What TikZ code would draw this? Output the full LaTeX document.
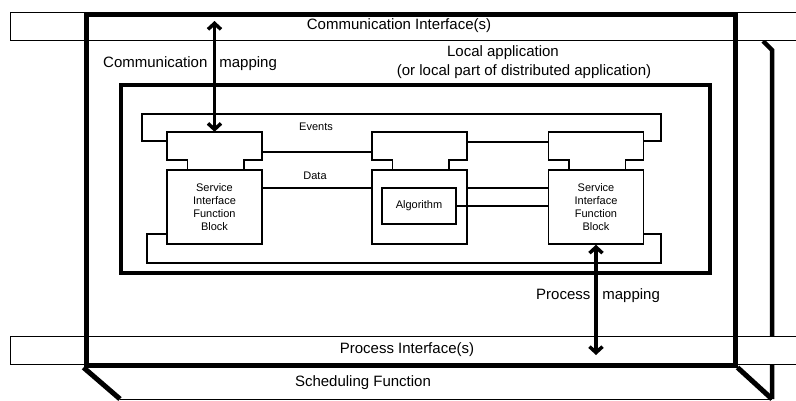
\documentclass[tikz,border=0pt]{standalone}
\usepackage{fontspec}
\setmainfont{Liberation Sans}
\usetikzlibrary{arrows.meta}
\tikzset{
  bandline/.style={line width=1pt},
  heavyline/.style={line width=5pt},
  appline/.style={line width=3.5pt},
  fbline/.style={line width=1.5pt},
  fbbox/.style={draw, line width=1.5pt, inner sep=0pt},
  headbox/.style={inner sep=0pt, minimum width=95pt, minimum height=28pt},
  bigtext/.style={font=\fontsize{15}{18}\selectfont, inner sep=0pt},
  smalltext/.style={font=\fontsize{11}{13}\selectfont, inner sep=0pt, align=center},
  maparrow/.style={line width=3.5pt, {Straight Barb[length=6pt,width=13pt]}-{Straight Barb[length=6pt,width=13pt]}}
}
\begin{document}
\begin{tikzpicture}[x=1pt,y=-1pt]
\useasboundingbox (0,0) rectangle (796,400);
% scheduling function (perspective box)
\coordinate (sbl) at (120,399);
\coordinate (sbr) at (772,399);
\draw[line width=4.5pt, line join=miter] (763,41) -- (772,50) -- (sbr);
\draw[bandline] (sbl) -- (sbr);
% bands
\fill[white] (10,12) rectangle (796,40);
\draw[bandline] (796,12) -- (10,12) -- (10,40) -- (796,40);
\fill[white] (10,336) rectangle (796,364);
\draw[bandline] (796,336) -- (10,336) -- (10,364) -- (796,364);
% resource (thick frame)
\node[draw, heavyline, inner sep=0pt, minimum width=649pt, minimum height=351pt] (res) at (410.5,189.5) {};
\draw[heavyline] (res.south west) -- (sbl);
\draw[heavyline] (res.south east) -- (sbr);
% local application
\node[draw, appline, inner sep=0pt, minimum width=589pt, minimum height=188pt] (app) at (415.5,179) {};
% function blocks: left
\node[headbox] (lh) at (214.5,146) {};
\node[fbbox, minimum width=95pt, minimum height=74pt] (lb) at (214.5,207) {};
\draw[fbline] ([xshift=21pt]lb.north west) |- (lh.south west) -- (lh.north west) -- (lh.north east) -- (lh.south east) -| ([xshift=-19pt]lb.north east);
% middle
\node[headbox] (mh) at (419.5,146) {};
\node[fbbox, minimum width=95pt, minimum height=74pt] (mb) at (419.5,207) {};
\draw[fbline] ([xshift=21pt]mb.north west) |- (mh.south west) -- (mh.north west) -- (mh.north east) -- (mh.south east) -| ([xshift=-19pt]mb.north east);
\node[fbbox, minimum width=74pt, minimum height=36pt, smalltext] (alg) at (419,206) {Algorithm};
% right
\node[headbox] (rh) at (596,146) {};
\node[fbbox, minimum width=95pt, minimum height=74pt] (rb) at (596,207) {};
\draw[fbline] ([xshift=21pt]rb.north west) |- (rh.south west) -- (rh.north west) -- (rh.north east) -- (rh.south east) -| ([xshift=-19pt]rb.north east);
% block texts
\node[smalltext] (lbt) at (lb.center) {Service\\Interface\\Function\\Block};
\node[smalltext] (rbt) at (rb.center) {Service\\Interface\\Function\\Block};
% connections
\coordinate (evl) at (142,114);
\coordinate (evr) at (661,114);
\coordinate (dtl) at (147,263);
\coordinate (dtr) at (661,263);
\draw[fbline] ([yshift=5pt]lh.west) -| (evl) -- (evr) |- ([yshift=5pt]rh.east);
\draw[fbline] ([yshift=-27pt]lb.west) -| (dtl) -- (dtr) |- ([yshift=-27pt]rb.east);
\draw[fbline] ([yshift=-6pt]lh.east) -- ([yshift=-6pt]mh.west);
\draw[fbline] ([yshift=4pt]mh.east) -- ([yshift=4pt]rh.west);
\draw[fbline] ([yshift=19pt]lb.east) -- ([yshift=19pt]mb.west);
\draw[fbline] ([yshift=19pt]mb.east) -- ([yshift=19pt]rb.west);
\draw[fbline] (alg.east) -- (alg.east -| rb.west);
% mapping arrows
\coordinate (ctop) at (214.5,21);
\coordinate (pbot) at (596,355);
\draw[maparrow] (ctop) -- (lh.north);
\draw[maparrow] (rb.south) -- (pbot);
% labels
\node[bigtext] (cit) at (399,26) {Communication Interface(s)};
\node[bigtext, anchor=base west] (cmt) at (103,67) {Communication\hspace{12pt}mapping};
\node[bigtext] (lat) at (503,53) {Local application};
\node[bigtext] (lpt) at (524,72) {(or local part of distributed application)};
\node[smalltext] (evt) at (316,127) {Events};
\node[smalltext] (dat) at (315,176) {Data};
\node[bigtext, anchor=base west] (pmt) at (536,299) {Process\hspace{12pt}mapping};
\node[bigtext] (pit) at (407,350) {Process Interface(s)};
\node[bigtext] (sft) at (363,383) {Scheduling Function};
\end{tikzpicture}
\end{document}
